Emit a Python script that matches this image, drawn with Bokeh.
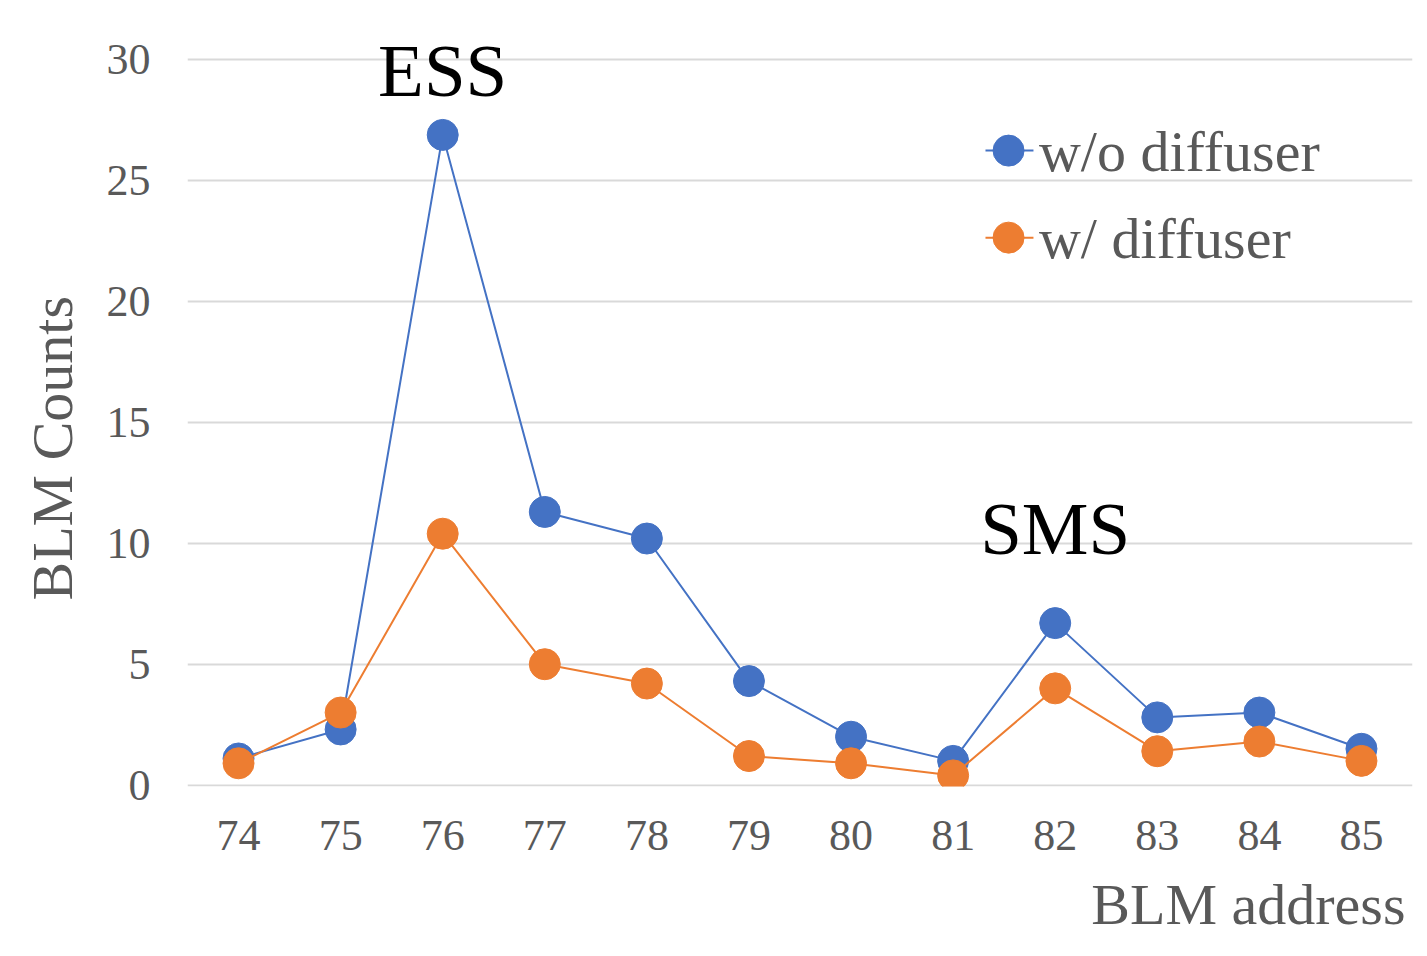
from bokeh.plotting import figure
from bokeh.models import Range1d, FixedTicker, Label, Title
from bokeh.embed import file_html
from bokeh.resources import INLINE

addresses = [74, 75, 76, 77, 78, 79, 80, 81, 82, 83, 84, 85]
wo_diffuser = [1.1, 2.3, 26.9, 11.3, 10.2, 4.3, 2.0, 1.0, 6.7, 2.8, 3.0, 1.5]
w_diffuser = [0.9, 3.0, 10.4, 5.0, 4.2, 1.2, 0.9, 0.4, 4.0, 1.4, 1.8, 1.0]
y_ticks = [0, 5, 10, 15, 20, 25, 30]
series_names = ["w/o diffuser", "w/ diffuser"]

BLUE = "#4472C4"
ORANGE = "#ED7D31"
GRAY = "#595959"
FONT = "Liberation Serif"

p = figure(width=1419, height=956, output_backend="svg", toolbar_location=None,
           x_range=Range1d(73.5, 85.5), y_range=Range1d(-0.06, 31.22),
           min_border_left=187, min_border_top=30, min_border_bottom=170, min_border_right=7)
p.outline_line_color = None
p.background_fill_color = "white"
p.border_fill_color = "white"

p.xaxis.ticker = FixedTicker(ticks=addresses)
p.yaxis.ticker = FixedTicker(ticks=y_ticks)
for ax in (p.xaxis, p.yaxis):
    ax.axis_line_color = None
    ax.major_tick_line_color = None
    ax.minor_tick_line_color = None
    ax.major_label_text_font = FONT
    ax.major_label_text_font_size = "44px"
    ax.major_label_text_color = GRAY
p.yaxis.major_label_standoff = 31
p.xaxis.major_label_standoff = 28

p.xgrid.grid_line_color = None
p.ygrid.grid_line_color = "#D9D9D9"
p.ygrid.grid_line_width = 2

p.line(addresses, wo_diffuser, line_color=BLUE, line_width=2)
p.scatter(addresses, wo_diffuser, size=31, fill_color=BLUE, line_color=BLUE)
p.line(addresses, w_diffuser, line_color=ORANGE, line_width=2)
p.scatter(addresses, w_diffuser, size=31, fill_color=ORANGE, line_color=ORANGE)

# legend (drawn manually so the markers match the plot's marker size)
leg_y = [26.25, 22.65]
for name, color, yy in zip(series_names, [BLUE, ORANGE], leg_y):
    p.line([81.317, 81.787], [yy, yy], line_color=color, line_width=2)
    p.scatter([81.543], [yy], size=31, fill_color=color, line_color=color)
    p.add_layout(Label(x=81.84, y=yy - 0.03, text=name, text_align="left", text_baseline="middle",
                       text_font=FONT, text_font_size="58px", text_color=GRAY))

p.add_layout(Label(x=76, y=29.55, text="ESS", text_align="center", text_baseline="alphabetic",
                   text_font=FONT, text_font_size="75px", text_color="black"))
p.add_layout(Label(x=82, y=10.61, text="SMS", text_align="center", text_baseline="alphabetic",
                   text_font=FONT, text_font_size="75px", text_color="black"))

p.add_layout(Title(text="BLM address", align="right", offset=7, standoff=34,
                   text_font=FONT, text_font_size="58px", text_color=GRAY,
                   text_font_style="normal"), "below")
p.add_layout(Title(text="BLM Counts", align="left", offset=186, standoff=36,
                   vertical_align="middle",
                   text_font=FONT, text_font_size="58px", text_color=GRAY,
                   text_font_style="normal"), "left")

open("out.html", "w").write(file_html(p, INLINE))
